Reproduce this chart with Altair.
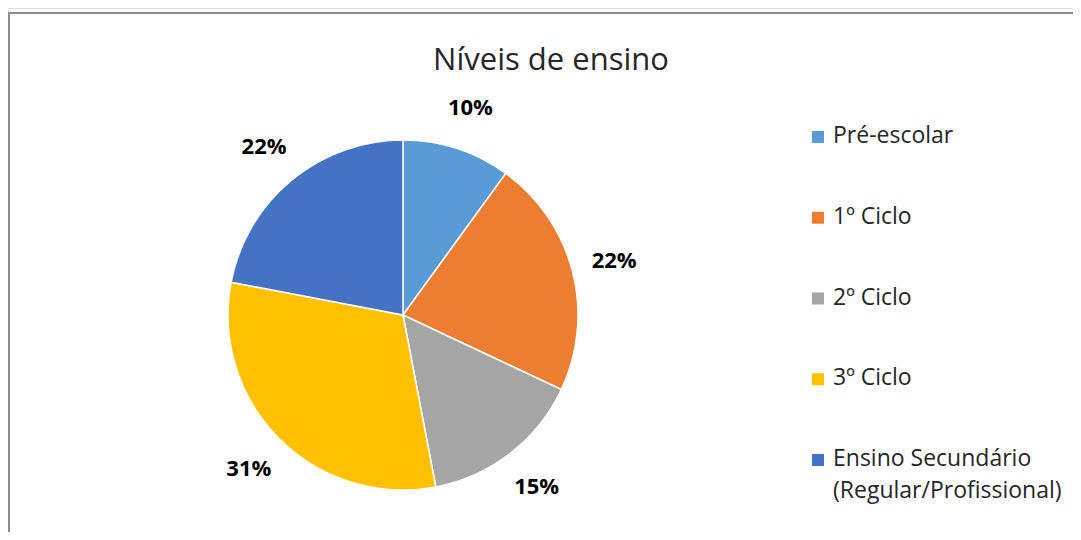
import altair as alt
import pandas as pd

categories = ["Pré-escolar", "1º Ciclo", "2º Ciclo", "3º Ciclo", "Ensino Secundário\n(Regular/Profissional)"]
values = [10, 22, 15, 31, 22]
colors = ["#5B9BD5", "#ED7D31", "#A5A5A5", "#FFC000", "#4472C4"]
title_text = "Níveis de ensino"

df = pd.DataFrame({
    "cat": categories,
    "val": values,
    "idx": list(range(len(categories))),
    "label": [f"{v}%" for v in values],
})

FONT = "Open Sans"
W, H = 1065, 524
CX, CY, R = 395, 307, 175

color_scale = alt.Scale(domain=categories, range=colors)

base = alt.Chart(df)

pie = base.mark_arc(outerRadius=R, stroke="white", strokeWidth=1.5).encode(
    theta=alt.Theta("val:Q", stack=True),
    color=alt.Color("cat:N", scale=color_scale, legend=None),
    order=alt.Order("idx:Q"),
    x=alt.value(CX),
    y=alt.value(CY),
)

labels = base.mark_text(radius=218, font=FONT, fontSize=22, fontWeight="bold", color="black").encode(
    theta=alt.Theta("val:Q", stack=True),
    order=alt.Order("idx:Q"),
    text="label:N",
    x=alt.value(CX),
    y=alt.value(CY),
)

ypos = alt.Y("cat:N", scale=alt.Scale(type="point", domain=categories, range=[129, 452], padding=0), axis=None)

leg_sq = base.mark_square(size=144, opacity=1).encode(
    x=alt.value(810),
    y=ypos,
    color=alt.Color("cat:N", scale=color_scale, legend=None),
)

leg_txt = base.mark_text(align="left", baseline="top", dy=-12, font=FONT, fontSize=23,
                         color="#262626", lineBreak="\n", lineHeight=32).encode(
    x=alt.value(825),
    y=ypos,
    text="cat:N",
)

title = alt.Chart(pd.DataFrame({"t": [title_text]})).mark_text(
    font=FONT, fontSize=31, color="#262626", align="center", baseline="alphabetic"
).encode(text="t:N", x=alt.value(543), y=alt.value(62))

border_top = base.mark_rule(color="#8c8c8c", strokeWidth=2).encode(
    x=alt.value(0), x2=alt.value(W), y=alt.value(5)
)
border_left = base.mark_rule(color="#8c8c8c", strokeWidth=2).encode(
    x=alt.value(1), y=alt.value(4), y2=alt.value(H)
)

chart = alt.layer(border_top, border_left, pie, labels, leg_sq, leg_txt, title).properties(
    width=W,
    height=H,
    autosize=alt.AutoSizeParams(type="none"),
    padding=0,
).configure_view(stroke=None).configure(background="white")

chart.save("out.html", embed_options={"renderer": "svg", "actions": False})
